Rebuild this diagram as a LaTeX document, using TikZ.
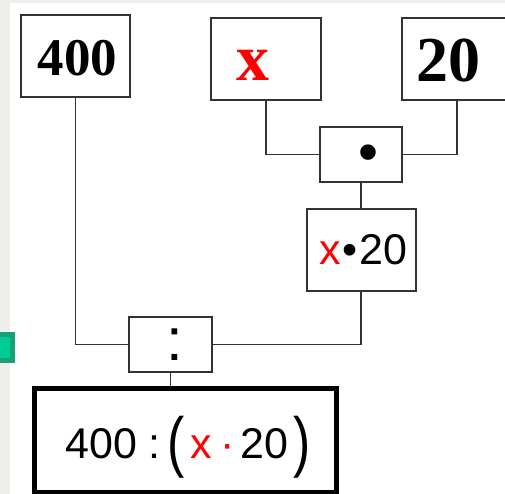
\documentclass[tikz,border=0pt]{standalone}
\usepackage{fontspec}
\setmainfont{Liberation Serif}
\setsansfont{Liberation Sans}
\definecolor{pagetint}{HTML}{F0EEEA}
\definecolor{tabfill}{HTML}{00CC99}
\definecolor{tabedge}{HTML}{18A077}
\definecolor{wirecol}{HTML}{333333}
\newcommand{\fsz}[1]{\fontsize{#1}{#1}\selectfont}
\newcommand{\bigparen}[1]{\raisebox{-6pt}{\scalebox{1.2}[1.55]{#1}}}
\begin{document}
\begin{tikzpicture}[x=1pt,y=-1pt,
  box/.style={draw=wirecol, line width=1.5pt, fill=white, inner sep=0pt},
  resultbox/.style={draw=black, line width=5pt, fill=white, inner sep=0pt},
  wire/.style={draw=wirecol, line width=1.5pt},
  numtext/.style={inner sep=0pt, font=\rmfamily\bfseries},
  sanstext/.style={inner sep=0pt, font=\sffamily}]
  % page frame
  \useasboundingbox (0,0) rectangle (505,494);
  \fill[white] (0,0) rectangle (505,494);
  \fill[pagetint] (0,0) rectangle (10,494);
  \fill[pagetint] (0,0) rectangle (505,3);
  \draw[fill=tabfill, draw=tabedge, line width=5pt] (-10,334.5) rectangle (12.5,360.5);

  % operand boxes
  \node[box, minimum width=109, minimum height=82] (b400) at (75.5,56) {};
  \node[box, minimum width=110, minimum height=82] (bx) at (266,59) {};
  \node[box, minimum width=110, minimum height=82] (b20) at (457,59) {};
  % operator and intermediate boxes
  \node[box, minimum width=82, minimum height=55] (bdot) at (361,154.5) {};
  \node[box, minimum width=109, minimum height=82] (bprod) at (361.5,250) {};
  \node[box, minimum width=83, minimum height=55] (bcolon) at (170.5,344.5) {};
  \node[resultbox, minimum width=301.5, minimum height=104] (bres) at (185.25,440) {};

  % connectors
  \draw[wire] (bx.south) |- (bdot.west);
  \draw[wire] (b20.south) |- (bdot.east);
  \draw[wire] (bdot.south) -- (bdot.south |- bprod.north);
  \draw[wire] (b400.south) |- (bcolon.west);
  \draw[wire] (bprod.south -| bdot.south) |- (bcolon.east);
  \draw[wire] (bcolon.south) -- (bcolon.south |- bres.north);

  % labels
  \node[numtext, anchor=base] (t400) at (77.5,76) {\fsz{53}400};
  \node[numtext, anchor=base, text=red] (tx) at (253,81) {\fsz{66}x};
  \node[numtext, anchor=base] (t20) at (448,82) {\fsz{64}20};
  \node[sanstext, anchor=base] (tdot) at (368,172) {\fsz{57}•};
  \node[sanstext, anchor=base west] (tprod) at (319.6,264)
    {\fsz{43}\textcolor{red}{x}\hspace{1.5pt}•\hspace{1.5pt}20};
  \node[sanstext, anchor=base] (tcolon) at (175,360) {\fsz{60}:};
  \node[sanstext, anchor=base west] (tres) at (65.5,458)
    {\fsz{43}400\hspace{11pt}:\hspace{7.4pt}\bigparen{(}\hspace{6pt}\textcolor{red}{x}\hspace{8pt}\textcolor{red}{·}\hspace{5.7pt}20\hspace{5pt}\bigparen{)}};
\end{tikzpicture}
\end{document}
